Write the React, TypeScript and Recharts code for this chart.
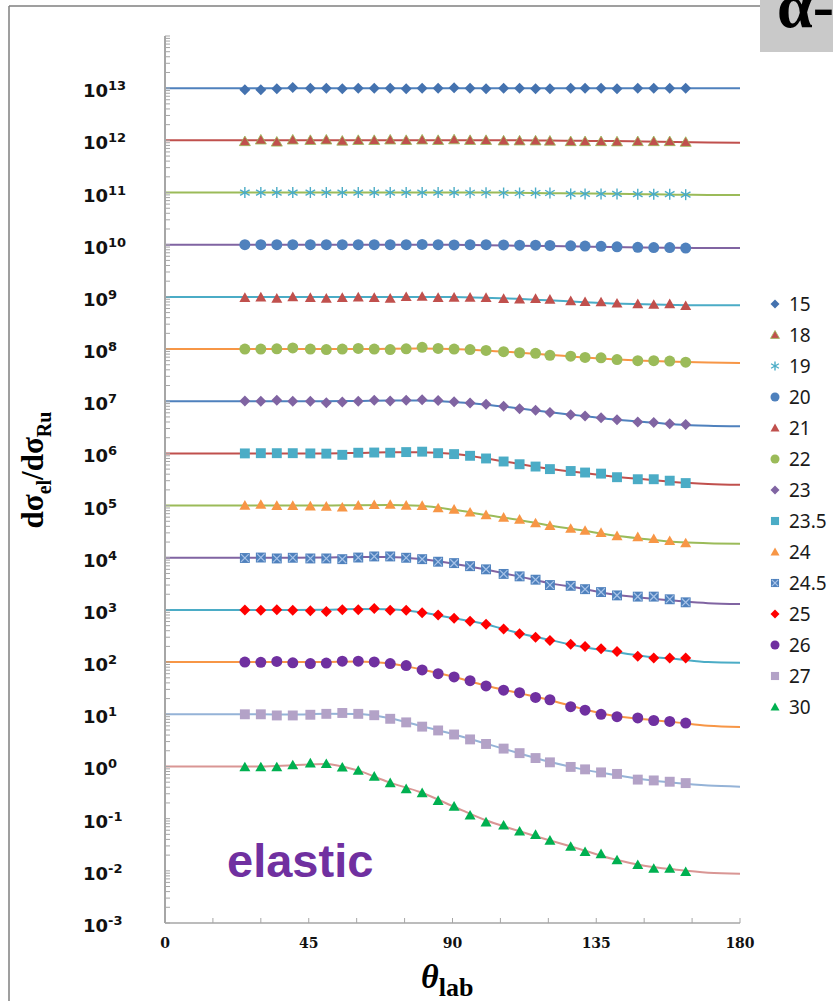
import React from 'react';
import { LineChart, Line, XAxis, YAxis } from 'recharts';

// beam energies (MeV), one curve each, shifted by a decade
const energies = ['15', '18', '19', '20', '21', '22', '23', '23.5', '24', '24.5', '25', '26', '27', '30'];
const offsetExponents = [13, 12, 11, 10, 9, 8, 7, 6, 5, 4, 3, 2, 1, 0];

// measured angles (deg)
const angles = [25, 30, 35, 40, 45.5, 50.5, 55.5, 60.5, 65.5, 70.5, 75.5, 80.5, 85.5, 90.5, 95.5, 100.5, 106, 111, 116, 120.5, 127, 131.5, 136.5, 141.5, 148, 153, 158, 163];

// measured ratio to Rutherford, per energy
const ratio15 = [0.93, 0.93, 0.97, 1.03, 1.0, 1.0, 0.98, 1.0, 1.0, 1.0, 0.98, 1.0, 1.0, 1.02, 1.0, 0.98, 1.0, 1.0, 0.98, 0.98, 1.0, 1.0, 1.0, 0.98, 1.0, 1.0, 1.0, 1.0];
const ratio18 = [0.95, 1.02, 0.93, 1.02, 1.0, 1.02, 0.97, 1.0, 1.0, 1.02, 1.0, 1.02, 1.0, 1.03, 1.0, 1.0, 0.98, 0.98, 0.98, 0.97, 0.95, 0.95, 0.95, 0.94, 0.95, 0.95, 0.95, 0.92];
const ratio19 = [1, 1, 1, 1, 1, 1, 1, 1, 1, 1, 1, 1, 1, 1, 0.99, 0.99, 0.98, 0.98, 0.98, 0.98, 0.94, 0.94, 0.94, 0.94, 0.93, 0.93, 0.93, 0.91];
const ratio20 = [1, 1, 1, 1, 1, 1, 1, 1, 1, 1, 1, 1.01, 1.0, 0.99, 1, 1, 0.99, 0.98, 0.98, 0.97, 0.95, 0.94, 0.93, 0.91, 0.89, 0.88, 0.88, 0.86];
const ratio21 = [0.96, 0.98, 0.93, 0.99, 0.96, 0.93, 0.96, 0.98, 0.96, 0.93, 1.0, 1.01, 0.96, 0.97, 0.97, 0.96, 0.92, 0.9, 0.92, 0.89, 0.83, 0.8, 0.79, 0.75, 0.73, 0.71, 0.73, 0.67];
const ratio22 = [1.0, 1.0, 1.01, 1.05, 1.0, 0.98, 1.0, 1.03, 1.0, 0.98, 1.01, 1.08, 1.03, 1.0, 0.98, 0.94, 0.89, 0.85, 0.83, 0.76, 0.73, 0.69, 0.68, 0.63, 0.6, 0.6, 0.59, 0.56];
const ratio23 = [1.01, 1.0, 1.04, 1.0, 1.0, 0.94, 0.97, 1.0, 1.04, 1.01, 1.04, 1.07, 1.03, 0.98, 0.92, 0.88, 0.8, 0.72, 0.67, 0.61, 0.55, 0.52, 0.48, 0.44, 0.4, 0.39, 0.37, 0.36];
const ratio23_5 = [1.0, 1.01, 1.01, 1.01, 1.0, 0.99, 0.94, 1.03, 1.04, 1.03, 1.06, 1.08, 1.01, 0.97, 0.9, 0.8, 0.7, 0.62, 0.56, 0.5, 0.46, 0.43, 0.41, 0.35, 0.32, 0.32, 0.3, 0.27];
const ratio24 = [1.0, 1.04, 0.99, 0.99, 0.97, 0.96, 0.92, 1.0, 1.03, 1.04, 1.0, 0.99, 0.89, 0.84, 0.74, 0.66, 0.59, 0.54, 0.46, 0.41, 0.36, 0.33, 0.3, 0.26, 0.25, 0.23, 0.21, 0.19];
const ratio24_5 = [0.99, 1.01, 0.97, 1.0, 0.97, 0.97, 0.94, 1.01, 1.06, 1.06, 1.0, 0.94, 0.84, 0.79, 0.69, 0.6, 0.49, 0.44, 0.38, 0.3, 0.29, 0.25, 0.22, 0.19, 0.18, 0.18, 0.16, 0.14];
const ratio25 = [1.0, 0.99, 1.01, 0.99, 0.96, 0.93, 1.01, 1.01, 1.06, 0.99, 0.99, 0.88, 0.8, 0.69, 0.61, 0.53, 0.43, 0.35, 0.3, 0.26, 0.22, 0.2, 0.18, 0.16, 0.13, 0.12, 0.12, 0.12];
const ratio26 = [1.0, 0.99, 1.03, 0.97, 0.94, 0.96, 1.04, 1.04, 1.01, 0.94, 0.86, 0.71, 0.6, 0.52, 0.44, 0.35, 0.29, 0.26, 0.21, 0.19, 0.14, 0.12, 0.1, 0.09, 0.085, 0.076, 0.073, 0.068];
const ratio27 = [1.0, 1.0, 0.95, 0.95, 0.98, 1.02, 1.06, 1.02, 0.96, 0.82, 0.7, 0.58, 0.49, 0.41, 0.33, 0.27, 0.22, 0.18, 0.145, 0.12, 0.098, 0.088, 0.077, 0.072, 0.056, 0.054, 0.051, 0.048];
const ratio30 = [0.97, 0.97, 0.97, 1.06, 1.15, 1.12, 0.96, 0.83, 0.64, 0.48, 0.37, 0.31, 0.22, 0.17, 0.115, 0.085, 0.074, 0.057, 0.049, 0.038, 0.029, 0.023, 0.021, 0.016, 0.013, 0.011, 0.011, 0.0095];

// calculated curves
const fitAngles = [0, 20, 30, 40, 50, 60, 70, 80, 90, 100, 110, 120, 130, 140, 150, 160, 170, 180];
const fit15 = [1, 1, 1, 1, 1, 1, 1, 1, 1, 1, 1, 1, 1, 1, 1, 1, 1, 1];
const fit18 = [1, 1, 1, 1, 1, 1, 1, 1, 1, 1, 1, 0.99, 0.98, 0.97, 0.95, 0.93, 0.91, 0.9];
const fit19 = [1, 1, 1, 1, 1, 1, 1, 1, 1, 1, 0.99, 0.97, 0.96, 0.95, 0.93, 0.91, 0.9, 0.9];
const fit20 = [1, 1, 1, 1, 1, 1, 1, 1, 1, 0.98, 0.96, 0.94, 0.92, 0.9, 0.88, 0.87, 0.86, 0.86];
const fit21 = [1, 1, 1, 1, 1, 1, 1, 1, 0.99, 0.96, 0.92, 0.86, 0.8, 0.75, 0.72, 0.7, 0.69, 0.69];
const fit22 = [1, 1, 1, 1, 1, 1, 1.01, 1.02, 1.0, 0.94, 0.86, 0.78, 0.7, 0.64, 0.6, 0.57, 0.55, 0.54];
const fit23 = [1, 1, 1, 1, 1, 1.01, 1.03, 1.03, 0.97, 0.87, 0.74, 0.62, 0.53, 0.45, 0.4, 0.36, 0.34, 0.33];
const fit23_5 = [1, 1, 1, 1, 1, 1.02, 1.05, 1.05, 0.98, 0.81, 0.64, 0.51, 0.43, 0.36, 0.32, 0.28, 0.26, 0.25];
const fit24 = [1, 1, 1, 1, 1, 1.02, 1.03, 0.99, 0.84, 0.67, 0.54, 0.42, 0.34, 0.27, 0.23, 0.2, 0.19, 0.186];
const fit24_5 = [1, 1, 1, 1, 1.01, 1.04, 1.04, 0.95, 0.78, 0.6, 0.45, 0.33, 0.26, 0.2, 0.17, 0.15, 0.135, 0.13];
const fit25 = [1, 1, 1, 1, 1.01, 1.04, 1.03, 0.9, 0.7, 0.54, 0.37, 0.27, 0.2, 0.16, 0.13, 0.115, 0.1, 0.097];
const fit26 = [1, 1, 1, 1, 1.01, 1.03, 0.95, 0.73, 0.53, 0.36, 0.26, 0.19, 0.13, 0.095, 0.08, 0.07, 0.06, 0.057];
const fit27 = [1, 1, 1, 0.99, 1.02, 1.01, 0.85, 0.6, 0.42, 0.28, 0.185, 0.125, 0.09, 0.07, 0.056, 0.048, 0.043, 0.041];
const fit30 = [1, 1, 1, 1.06, 1.12, 0.85, 0.5, 0.32, 0.175, 0.095, 0.06, 0.039, 0.026, 0.017, 0.0125, 0.0105, 0.0092, 0.0088];

// axis ticks
const xTicks = [0, 15, 30, 45, 60, 75, 90, 105, 120, 135, 150, 165, 180];
const xLabels = [0, 45, 90, 135, 180];
const decadeExponents = [-3, -2, -1, 0, 1, 2, 3, 4, 5, 6, 7, 8, 9, 10, 11, 12, 13, 14];
const labelledExponents = [-3, -2, -1, 0, 1, 2, 3, 4, 5, 6, 7, 8, 9, 10, 11, 12, 13];
const minorSteps = [2, 3, 4, 5, 6, 7, 8, 9];

const ratios = [ratio15, ratio18, ratio19, ratio20, ratio21, ratio22, ratio23, ratio23_5, ratio24, ratio24_5, ratio25, ratio26, ratio27, ratio30];
const fits = [fit15, fit18, fit19, fit20, fit21, fit22, fit23, fit23_5, fit24, fit24_5, fit25, fit26, fit27, fit30];

const fitColors = ['#4F81BD', '#C0504D', '#9BBB59', '#8064A2', '#4BACC6', '#F79646', '#4F81BD', '#C0504D', '#9BBB59', '#8064A2', '#4BACC6', '#F79646', '#95B3D7', '#D99694'];
const markerKinds = ['diamond', 'triangle', 'star', 'circle', 'triangle', 'circle', 'diamond', 'square', 'triangle', 'xsquare', 'diamond', 'circle', 'square', 'triangle'];
const markerColors = ['#4472AF', '#C0504D', '#4BACC6', '#4F81BD', '#C0504D', '#9BBB59', '#8064A2', '#4BACC6', '#F79646', '#4F81BD', '#FF0000', '#7030A0', '#B3A2C7', '#00B050'];
const markerOutlines = ['none', '#9BBB59', 'none', 'none', 'none', 'none', 'none', 'none', 'none', 'none', 'none', 'none', 'none', 'none'];

const yTicks: number[] = [];
decadeExponents.forEach(e => {
  yTicks.push(Math.pow(10, e));
  if (e < 14) minorSteps.forEach(m => yTicks.push(m * Math.pow(10, e)));
});

const markerData = ratios.map((r, i) =>
  angles.map((a, j) => ({ x: a, y: r[j] * Math.pow(10, offsetExponents[i]) }))
);
const fitData = fits.map((f, i) =>
  fitAngles.map((a, j) => ({ x: a, y: f[j] * Math.pow(10, offsetExponents[i]) }))
);

const AXIS = '#A6A6A6';

function Marker({ kind, cx, cy, fill, outline = 'none', size = 10 }: any) {
  const h = size / 2;
  switch (kind) {
    case 'diamond':
      return <polygon points={`${cx},${cy - h} ${cx + h},${cy} ${cx},${cy + h} ${cx - h},${cy}`} fill={fill} />;
    case 'triangle':
      return (
        <polygon
          points={`${cx},${cy - h} ${cx + h},${cy + h * 0.75} ${cx - h},${cy + h * 0.75}`}
          fill={fill}
          stroke={outline}
          strokeWidth={0.8}
        />
      );
    case 'circle':
      return <circle cx={cx} cy={cy} r={h} fill={fill} />;
    case 'square':
      return <rect x={cx - h * 0.9} y={cy - h * 0.9} width={h * 1.8} height={h * 1.8} fill={fill} />;
    case 'xsquare':
      return (
        <g>
          <rect x={cx - h * 0.9} y={cy - h * 0.9} width={h * 1.8} height={h * 1.8} fill={fill} />
          <line x1={cx - h * 0.7} y1={cy - h * 0.7} x2={cx + h * 0.7} y2={cy + h * 0.7} stroke="#A9C4E8" strokeWidth={1.2} />
          <line x1={cx - h * 0.7} y1={cy + h * 0.7} x2={cx + h * 0.7} y2={cy - h * 0.7} stroke="#A9C4E8" strokeWidth={1.2} />
        </g>
      );
    case 'star':
      return (
        <g stroke={fill} strokeWidth={1.4}>
          <line x1={cx} y1={cy - h} x2={cx} y2={cy + h} />
          <line x1={cx - h * 0.87} y1={cy - h * 0.5} x2={cx + h * 0.87} y2={cy + h * 0.5} />
          <line x1={cx - h * 0.87} y1={cy + h * 0.5} x2={cx + h * 0.87} y2={cy - h * 0.5} />
        </g>
      );
    default:
      return null;
  }
}

const YTick = (props: any) => {
  const { x, y, payload } = props;
  const exp = Math.log10(payload.value);
  const isDecade = Math.abs(exp - Math.round(exp)) < 1e-9;
  const e = Math.round(exp);
  return (
    <g>
      <line x1={x} x2={x + 5} y1={y} y2={y} stroke={AXIS} strokeWidth={1} />
      {isDecade && labelledExponents.includes(e) && (
        <text x={x - 82} y={y + 9} fontFamily="DejaVu Sans" fontWeight="bold" fontSize={18} fill="#111">
          10
          <tspan dy={-7} fontSize={13}>{e}</tspan>
        </text>
      )}
    </g>
  );
};

const XTick = (props: any) => {
  const { x, y, payload } = props;
  return (
    <g>
      <line x1={x} x2={x} y1={y} y2={y - 5} stroke={AXIS} strokeWidth={1} />
      {xLabels.includes(payload.value) && (
        <text x={x} y={y + 25} textAnchor="middle" fontFamily="DejaVu Serif" fontWeight="bold" fontSize={14} fill="#111">
          {payload.value}
        </text>
      )}
    </g>
  );
};

export default function App() {
  return (
    <div style={{ position: 'absolute', left: 0, top: 0, width: 833, height: 1001, background: '#fff', overflow: 'hidden' }}>
      <LineChart width={833} height={1001} margin={{ top: 36, right: 93, bottom: 48, left: 85 }}>
        <XAxis
          type="number"
          dataKey="x"
          domain={[0, 180]}
          ticks={xTicks}
          interval={0}
          tick={<XTick />}
          tickLine={false}
          tickSize={0}
          tickMargin={0}
          height={30}
          axisLine={{ stroke: AXIS, strokeWidth: 1.5 }}
          allowDataOverflow
        />
        <YAxis
          type="number"
          scale="log"
          domain={[1e-3, 1e14]}
          ticks={yTicks}
          interval={0}
          tick={<YTick />}
          tickLine={false}
          tickSize={0}
          tickMargin={0}
          width={80}
          axisLine={{ stroke: AXIS, strokeWidth: 2 }}
          allowDataOverflow
        />
        {fitData.map((d, i) => (
          <Line
            key={`fit-${energies[i]}`}
            data={d}
            dataKey="y"
            type="monotone"
            stroke={fitColors[i]}
            strokeWidth={2}
            dot={false}
            activeDot={false}
            isAnimationActive={false}
          />
        ))}
        {markerData.map((d, i) => (
          <Line
            key={`pts-${energies[i]}`}
            data={d}
            dataKey="y"
            stroke="none"
            strokeWidth={0}
            activeDot={false}
            isAnimationActive={false}
            dot={(p: any) => (
              <Marker
                key={`m-${i}-${p.index}`}
                kind={markerKinds[i]}
                cx={p.cx}
                cy={p.cy}
                fill={markerColors[i]}
                outline={markerOutlines[i]}
                size={11}
              />
            )}
          />
        ))}
      </LineChart>

      <svg width={833} height={1001} style={{ position: 'absolute', left: 0, top: 0, pointerEvents: 'none' }}>
        <line x1={9} y1={6} x2={760} y2={6} stroke="#7F7F7F" strokeWidth={1.5} />
        <line x1={9} y1={6} x2={9} y2={1001} stroke="#7F7F7F" strokeWidth={1.5} />
        <rect x={760} y={0} width={73} height={52} fill="#C9C9C9" />
        <text x={777} y={27} fontFamily="Liberation Serif" fontWeight="bold" fontSize={64} fill="#000">α-</text>

        <text transform="translate(43,470) rotate(-90)" textAnchor="middle" fontFamily="Liberation Serif" fontWeight="bold" fontSize={31} fill="#000">
          dσ<tspan fontSize={20} dy={8}>el</tspan>
          <tspan dy={-8}>/dσ</tspan>
          <tspan fontSize={20} dy={8}>Ru</tspan>
        </text>

        <text x={421} y={988} fontFamily="Liberation Serif" fontWeight="bold" fill="#000">
          <tspan fontStyle="italic" fontSize={34}>θ</tspan>
          <tspan fontSize={26} dy={8}>lab</tspan>
        </text>

        <text x={227} y={877} fontFamily="Liberation Sans" fontWeight="bold" fontSize={47} fill="#7030A0">elastic</text>
      </svg>

      <div style={{ position: 'absolute', left: 765, top: 288, width: 68 }}>
        {energies.map((en, i) => (
          <div key={en} style={{ height: 31, display: 'flex', alignItems: 'center' }}>
            <svg width={22} height={20} style={{ flex: 'none' }}>
              <Marker kind={markerKinds[i]} cx={10} cy={10} fill={markerColors[i]} outline={markerOutlines[i]} size={9} />
            </svg>
            <span style={{ fontFamily: 'Noto Sans', fontSize: 19, color: '#1a1a1a', lineHeight: '20px', marginLeft: 2 }}>{en}</span>
          </div>
        ))}
      </div>
    </div>
  );
}
